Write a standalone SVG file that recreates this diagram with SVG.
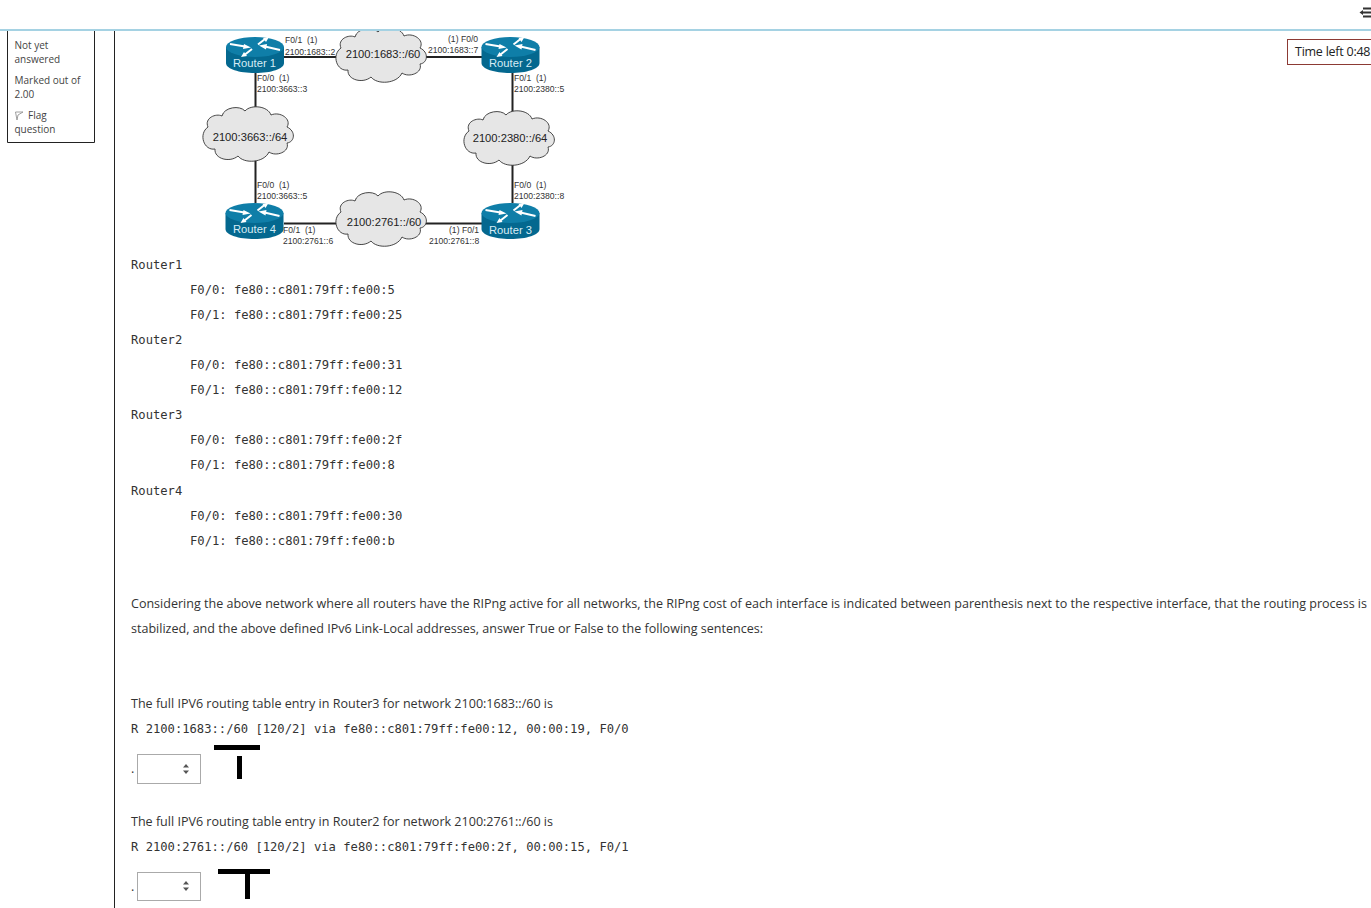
<svg xmlns="http://www.w3.org/2000/svg" width="1371" height="908" viewBox="0 0 1371 908">
<style>
.o{font-family:"Open Sans","Noto Sans",sans-serif;font-size:12.5px;fill:#333}
.s{font-family:"Open Sans","Noto Sans",sans-serif;font-size:10px;fill:#444}
.m{font-family:"DejaVu Sans Mono","Liberation Mono",monospace;font-size:12.17px;fill:#333}
.l{font-family:"Liberation Sans",Arial,sans-serif;font-size:8.6px;fill:#333;white-space:pre}
.c{font-family:"Liberation Sans",Arial,sans-serif;font-size:11.2px;fill:#222;text-anchor:middle}
.r{font-family:"Liberation Sans",Arial,sans-serif;font-size:11.2px;fill:#d6ecf5;text-anchor:middle}
.link{stroke:#222;stroke-width:2;fill:none}
.cloud{fill:#e6e6e6;stroke:#333;stroke-width:.9}
.sel{fill:#fff;stroke:#aaa;stroke-width:1}
</style>
<defs>
<g id="router">
<path d="M-29-10V6C-29 12-16 16 0 16S29 12 29 6V-10Z" fill="#04688f"/>
<ellipse cx="0" cy="-10" rx="29" ry="10" fill="#0f7ea8"/>
<path d="M-25-13L-10-10.500M25-7L10-10.500M-10-2.500L-3-8M10-18L3-12.500" stroke="#fff" stroke-width="2" fill="none"/>
<path d="M-4-9.500L-11-13L-12-8ZM4-11.500L11-7.500L12-13ZM-14 0L-8-1L-11-5ZM14-20L8-19L11-15Z" fill="#fff"/>
</g>
<path id="cloud" class="cloud" d="M-40-7C-44-16-32-21-26-18C-24-27-8-29-3-23C3-30 20-28 23-19C32-23 44-15 39-7C48-3 47 8 39 9C42 18 28 23 21 18C16 29-4 30-10 22C-18 29-34 25-33 15C-44 17-50 0-40-7Z"/>
<path id="arr" d="M-3-1.500L0-5L3-1.500ZM-3 1.500L0 5L3 1.500Z" fill="#555"/>
</defs>

<g id="question-info">
<path d="M7.500 31V142.500H94.500V31" fill="none" stroke="#222"/>
<path d="M114.500 31V908" stroke="#222" fill="none"/>
<text class="s" x="14.500" y="49">Not yet</text>
<text class="s" x="14.500" y="63">answered</text>
<text class="s" x="14.500" y="84">Marked out of</text>
<text class="s" x="14.500" y="98">2.00</text>
<path d="M15.500 112L23 112L18 115L17 120Z" fill="none" stroke="#888" stroke-width=".8"/>
<text class="s" x="28" y="119">Flag</text>
<text class="s" x="14.500" y="133">question</text>
</g>

<g id="timer">
<rect x="1287.500" y="39.500" width="95" height="25" fill="#fff" stroke="#8c3a34"/>
<text x="1295" y="56" font-family="Open Sans,sans-serif" font-size="12.500" fill="#222" textLength="75.500">Time left 0:48</text>
</g>

<g id="connectors">
<path class="link" d="M284 57H345M425 57H482M255.500 72V112M255.500 158V203M512.500 72V115M512.500 162V203M284 223.500H342M425 223.500H482"/>
</g>

<g id="router-1"><use href="#router" x="255" y="57"/><text class="r" x="254.500" y="67">Router 1</text></g>
<g id="router-2"><use href="#router" x="510.500" y="57"/><text class="r" x="510.500" y="67">Router 2</text></g>
<g id="router-3"><use href="#router" x="510.500" y="223"/><text class="r" x="510.500" y="233.500">Router 3</text></g>
<g id="router-4"><use href="#router" x="254.500" y="223"/><text class="r" x="254.500" y="233">Router 4</text></g>

<g id="cloud-1683"><use href="#cloud" x="381" y="55"/><text class="c" x="383" y="57.500">2100:1683::/60</text></g>
<g id="cloud-3663"><use href="#cloud" x="248" y="134"/><text class="c" x="250" y="140.500">2100:3663::/64</text></g>
<g id="cloud-2380"><use href="#cloud" x="509" y="138"/><text class="c" x="510" y="141.500">2100:2380::/64</text></g>
<g id="cloud-2761"><use href="#cloud" x="381" y="219"/><text class="c" x="384" y="225.500">2100:2761::/60</text></g>

<g id="page-top">
<rect x="0" y="0" width="1371" height="29" fill="#fff"/>
<rect x="0" y="29" width="1371" height="2" fill="#a5d2e3"/>
<path d="M1363 8.500H1371M1363 12.500H1371M1363 16.500H1371" stroke="#333" stroke-width="2"/>
<path d="M1363 10L1359.500 12.500L1363 15Z" fill="#333"/>
</g>

<g id="interface-labels">
<text class="l" x="285" y="43">F0/1  (1)</text>
<text class="l" x="285" y="54.500">2100:1683::2</text>
<text class="l" x="448" y="41.500">(1) F0/0</text>
<text class="l" x="428" y="53">2100:1683::7</text>
<text class="l" x="257" y="81">F0/0  (1)</text>
<text class="l" x="257" y="92">2100:3663::3</text>
<text class="l" x="514" y="81">F0/1  (1)</text>
<text class="l" x="514" y="92">2100:2380::5</text>
<text class="l" x="257" y="188">F0/0  (1)</text>
<text class="l" x="257" y="199">2100:3663::5</text>
<text class="l" x="514" y="188">F0/0  (1)</text>
<text class="l" x="514" y="199">2100:2380::8</text>
<text class="l" x="283" y="233">F0/1  (1)</text>
<text class="l" x="283" y="244">2100:2761::6</text>
<text class="l" x="449" y="233">(1) F0/1</text>
<text class="l" x="429" y="244">2100:2761::8</text>
</g>

<g id="addresses">
<text class="m" x="131" y="269">Router1</text>
<text class="m" x="190" y="294">F0/0: fe80::c801:79ff:fe00:5</text>
<text class="m" x="190" y="319">F0/1: fe80::c801:79ff:fe00:25</text>
<text class="m" x="131" y="344">Router2</text>
<text class="m" x="190" y="369">F0/0: fe80::c801:79ff:fe00:31</text>
<text class="m" x="190" y="394">F0/1: fe80::c801:79ff:fe00:12</text>
<text class="m" x="131" y="419">Router3</text>
<text class="m" x="190" y="444">F0/0: fe80::c801:79ff:fe00:2f</text>
<text class="m" x="190" y="469">F0/1: fe80::c801:79ff:fe00:8</text>
<text class="m" x="131" y="495">Router4</text>
<text class="m" x="190" y="520">F0/0: fe80::c801:79ff:fe00:30</text>
<text class="m" x="190" y="545">F0/1: fe80::c801:79ff:fe00:b</text>
</g>

<g id="question-text">
<text class="o" x="131" y="608" textLength="1236" lengthAdjust="spacingAndGlyphs">Considering the above network where all routers have the RIPng active for all networks, the RIPng cost of each interface is indicated between parenthesis next to the respective interface, that the routing process is</text>
<text class="o" x="131" y="633" textLength="632" lengthAdjust="spacingAndGlyphs">stabilized, and the above defined IPv6 Link-Local addresses, answer True or False to the following sentences:</text>
<text class="o" x="131" y="708" textLength="422" lengthAdjust="spacingAndGlyphs">The full IPV6 routing table entry in Router3 for network 2100:1683::/60 is</text>
<text class="m" x="131" y="733">R 2100:1683::/60 [120/2] via fe80::c801:79ff:fe00:12, 00:00:19, F0/0</text>
<text class="o" x="131" y="826" textLength="422" lengthAdjust="spacingAndGlyphs">The full IPV6 routing table entry in Router2 for network 2100:2761::/60 is</text>
<text class="m" x="131" y="851">R 2100:2761::/60 [120/2] via fe80::c801:79ff:fe00:2f, 00:00:15, F0/1</text>
</g>

<g id="answer-1">
<text class="o" x="131" y="773">.</text>
<rect class="sel" x="137.500" y="754.500" width="63" height="29"/>
<use href="#arr" x="186" y="769"/>
<rect x="214" y="745" width="46" height="5" fill="#000"/>
<rect x="237" y="756" width="5" height="23" fill="#000"/>
</g>
<g id="answer-2">
<text class="o" x="131" y="891">.</text>
<rect class="sel" x="137.500" y="872.500" width="63" height="28"/>
<use href="#arr" x="186" y="886"/>
<rect x="218" y="869" width="52" height="5" fill="#000"/>
<rect x="245" y="869" width="5" height="30" fill="#000"/>
</g>
</svg>
